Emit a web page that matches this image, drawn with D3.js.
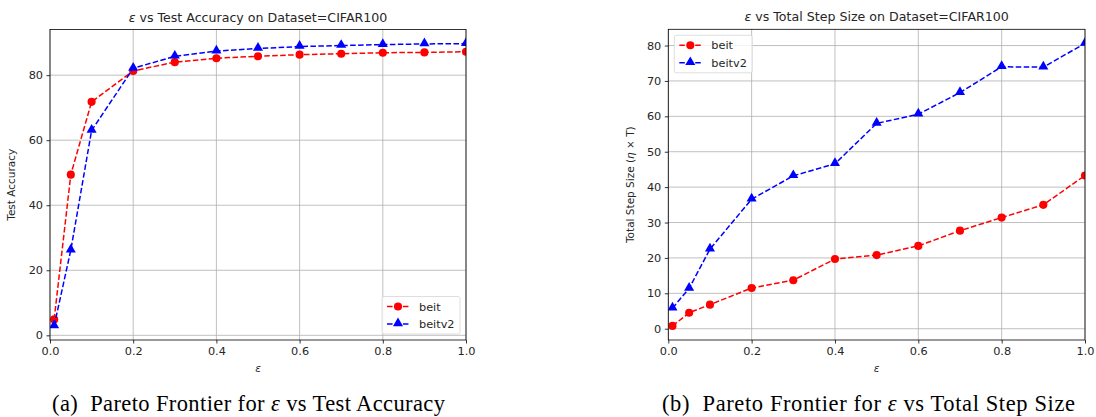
<!DOCTYPE html>
<html>
<head>
<meta charset="utf-8">
<script src="https://cdn.jsdelivr.net/npm/d3@7"></script>
<style>
  body { margin: 0; background: #fff; }
  svg text { font-family: "DejaVu Sans", sans-serif; fill: #262626; }
  .caption { font-family: "Liberation Serif", "Times New Roman", serif; font-size: 22.5px; fill: #000; }
</style>
</head>
<body>
<div id="chart"></div>
<script>
// epsilon values shared by both panels
const epsilons = [0.01, 0.05, 0.1, 0.2, 0.3, 0.4, 0.5, 0.6, 0.7, 0.8, 0.9, 1.0];
const xTicks = [0, 0.2, 0.4, 0.6, 0.8, 1.0];

// panel (a): test accuracy
const accBeit = [4.9, 49.4, 71.8, 81.3, 84.0, 85.2, 85.8, 86.3, 86.6, 86.9, 87.0, 87.2];
const accBeitv2 = [2.9, 26.2, 63.0, 82.1, 85.8, 87.4, 88.2, 88.8, 89.1, 89.4, 89.6, 89.7];
const accTicks = [0, 20, 40, 60, 80];

// panel (b): total step size
const stepBeit = [0.8, 4.5, 6.8, 11.5, 13.7, 19.7, 20.8, 23.4, 27.7, 31.4, 35.0, 43.3];
const stepBeitv2 = [5.8, 11.4, 22.5, 36.6, 43.2, 46.6, 58.0, 60.6, 66.7, 74.0, 73.9, 80.6];
const stepTicks = [0, 10, 20, 30, 40, 50, 60, 70, 80];

const W = 1096, H = 417;
const svg = d3.select("#chart").append("svg").attr("width", W).attr("height", H);

function drawPanel(cfg) {
  const width = cfg.right - cfg.left;
  const height = cfg.bottom - cfg.top;
  const g = svg.append("g").attr("transform", `translate(${cfg.left},${cfg.top})`);

  const x = d3.scaleLinear().domain([0, 1]).range([0, width]);
  const allVals = cfg.series.flatMap(s => s.values);
  const lo = d3.min(allVals), hi = d3.max(allVals);
  const pad = (hi - lo) * 0.05;
  const y = d3.scaleLinear().domain([lo - pad, hi + pad]).range([height, 0]);

  // grid
  g.append("g").selectAll("line").data(xTicks).join("line")
    .attr("x1", d => x(d)).attr("x2", d => x(d)).attr("y1", 0).attr("y2", height)
    .attr("stroke", "#b0b0b0").attr("stroke-width", 0.8);
  g.append("g").selectAll("line").data(cfg.yTicks).join("line")
    .attr("x1", 0).attr("x2", width).attr("y1", d => y(d)).attr("y2", d => y(d))
    .attr("stroke", "#b0b0b0").attr("stroke-width", 0.8);

  // clip
  const clipId = "clip-" + cfg.id;
  g.append("clipPath").attr("id", clipId).append("rect").attr("width", width).attr("height", height);
  const plot = g.append("g").attr("clip-path", `url(#${clipId})`);

  const line = d3.line().x((d, i) => x(epsilons[i])).y(d => y(d));
  cfg.series.forEach(s => {
    plot.append("path").datum(s.values)
      .attr("d", line).attr("fill", "none").attr("stroke", s.color)
      .attr("stroke-width", 1.5).attr("stroke-dasharray", "5.55,2.4");
    const sym = d3.symbol().type(s.marker === "o" ? d3.symbolCircle : d3.symbolTriangle)
      .size(s.marker === "o" ? 52 : 44);
    plot.append("g").selectAll("path").data(s.values).join("path")
      .attr("transform", (d, i) => `translate(${x(epsilons[i])},${y(d) + (s.marker === "o" ? 0 : -0.6)})`)
      .attr("d", sym).attr("fill", s.color);
  });

  // spines
  g.append("rect").attr("width", width).attr("height", height)
    .attr("fill", "none").attr("stroke", "#000").attr("stroke-width", 0.8);

  // axes
  const xAxis = g.append("g").attr("transform", `translate(0,${height})`)
    .call(d3.axisBottom(x).tickValues(xTicks).tickFormat(d3.format(".1f")).tickSize(3.5).tickPadding(3.5));
  const yAxis = g.append("g")
    .call(d3.axisLeft(y).tickValues(cfg.yTicks).tickFormat(d3.format("d")).tickSize(3.5).tickPadding(3.5));
  [xAxis, yAxis].forEach(a => {
    a.select(".domain").remove();
    a.selectAll(".tick line").attr("stroke", "#000").attr("stroke-width", 0.8);
    a.selectAll(".tick text").attr("font-size", "11.3px").attr("font-family", "DejaVu Sans").attr("fill", "#262626");
  });

  // title
  const title = g.append("text").attr("x", width / 2).attr("y", -8)
    .attr("text-anchor", "middle").attr("font-size", "12.6px");
  title.append("tspan").attr("font-style", "italic").text("ε");
  title.append("tspan").text(cfg.title);

  // x label
  g.append("text").attr("x", width / 2).attr("y", height + 32)
    .attr("text-anchor", "middle").attr("font-size", "10.5px").attr("font-style", "italic").text("ε");

  // y label
  const yl = g.append("text")
    .attr("transform", `translate(${cfg.yLabelX},${height / 2}) rotate(-90)`)
    .attr("text-anchor", "middle").attr("font-size", "10.5px");
  cfg.yLabel.forEach(p => {
    const t = yl.append("tspan").text(p.t);
    if (p.i) t.attr("font-style", "italic");
  });

  // legend
  const lg = g.append("g").attr("transform", `translate(${cfg.legend.x},${cfg.legend.y})`);
  lg.append("rect").attr("width", 78).attr("height", 37.5).attr("rx", 2)
    .attr("fill", "#fff").attr("fill-opacity", 0.8).attr("stroke", "#d5d5d5").attr("stroke-width", 0.8);
  cfg.series.forEach((s, i) => {
    const ry = 10 + i * 17.5;
    lg.append("line").attr("x1", 5).attr("x2", 27).attr("y1", ry).attr("y2", ry)
      .attr("stroke", s.color).attr("stroke-width", 1.5).attr("stroke-dasharray", "5.55,2.4");
    const sym = d3.symbol().type(s.marker === "o" ? d3.symbolCircle : d3.symbolTriangle)
      .size(s.marker === "o" ? 52 : 44);
    lg.append("path").attr("transform", `translate(16,${ry + (s.marker === "o" ? 0 : -0.6)})`)
      .attr("d", sym).attr("fill", s.color);
    lg.append("text").attr("x", 37).attr("y", ry).attr("dy", "0.36em")
      .attr("font-size", "11.3px").text(s.name);
  });

  // caption
  svg.append("text").attr("class", "caption")
    .attr("x", cfg.captionX).attr("y", 411).attr("text-anchor", "middle")
    .attr("textLength", cfg.captionW).attr("lengthAdjust", "spacing")
    .selectAll("tspan").data(cfg.caption).join("tspan")
    .attr("font-style", d => d.i ? "italic" : null).text(d => d.t);
}

drawPanel({
  id: "a", left: 50, right: 466, top: 29.5, bottom: 340,
  yTicks: accTicks,
  series: [
    { name: "beit", values: accBeit, color: "#ff0000", marker: "o" },
    { name: "beitv2", values: accBeitv2, color: "#0000ff", marker: "^" }
  ],
  title: " vs Test Accuracy on Dataset=CIFAR100",
  yLabel: [{ t: "Test Accuracy" }],
  yLabelX: -35,
  legend: { x: 332, y: 267 },
  caption: [{ t: "(a)\u00a0 Pareto Frontier for " }, { t: "ε", i: true }, { t: " vs Test Accuracy" }],
  captionX: 248.5, captionW: 393
});

drawPanel({
  id: "b", left: 668.3, right: 1085, top: 29.3, bottom: 340,
  yTicks: stepTicks,
  series: [
    { name: "beit", values: stepBeit, color: "#ff0000", marker: "o" },
    { name: "beitv2", values: stepBeitv2, color: "#0000ff", marker: "^" }
  ],
  title: " vs Total Step Size on Dataset=CIFAR100",
  yLabel: [{ t: "Total Step Size (" }, { t: "η", i: true }, { t: " × T)" }],
  yLabelX: -34,
  legend: { x: 6, y: 6 },
  caption: [{ t: "(b)\u00a0 Pareto Frontier for " }, { t: "ε", i: true }, { t: " vs Total Step Size" }],
  captionX: 868.5, captionW: 413
});
</script>
</body>
</html>
